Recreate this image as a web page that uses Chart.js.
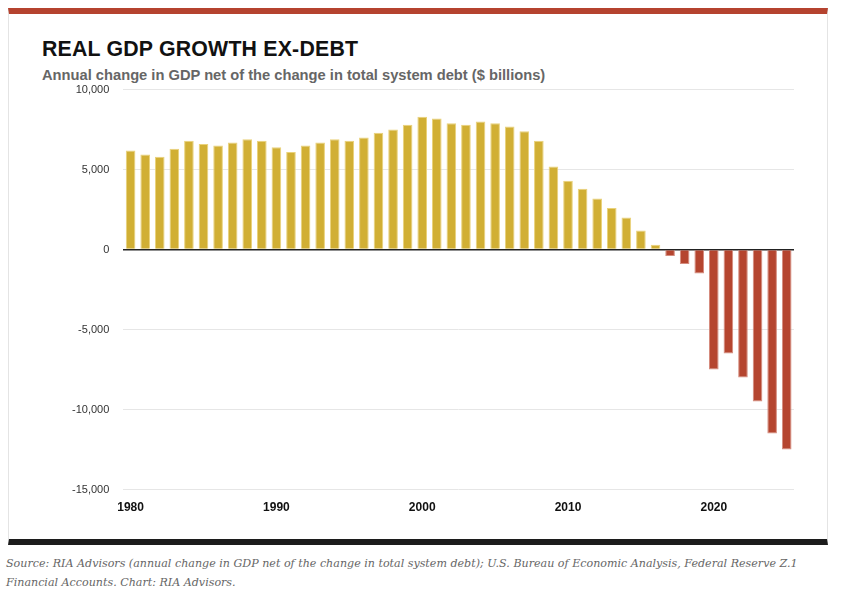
<!DOCTYPE html>
<html><head><meta charset="utf-8">
<script src="https://cdn.jsdelivr.net/npm/chart.js@4"></script>
<style>
body{margin:0;background:#fff;width:855px;height:598px;position:relative;font-family:Arial,"Liberation Sans",sans-serif;overflow:hidden}
#card{position:absolute;left:8px;top:8px;width:820px;height:537px;border:1px solid #e4e4e4;border-top:6px solid #b5432f;border-bottom:6px solid #1c1c1c;box-sizing:border-box;background:#fff}
#title{position:absolute;left:33px;top:23px;font-size:21.3px;font-weight:bold;color:#111;letter-spacing:0.2px}
#sub{position:absolute;left:33px;top:53px;font-size:14.7px;font-weight:bold;color:#666}
#wrap{position:absolute;left:40px;top:69px;width:770px;height:449px}
#src{position:absolute;left:6px;top:554px;width:840px;font-family:"DejaVu Serif","Liberation Serif",serif;font-style:italic;font-size:11.1px;line-height:19px;color:#666;white-space:nowrap}
</style></head><body>
<div id="card"><div id="title">REAL GDP GROWTH EX-DEBT</div>
<div id="sub">Annual change in GDP net of the change in total system debt ($ billions)</div></div>
<div id="wrap"><canvas id="c"></canvas></div>
<div id="src">Source: RIA Advisors (annual change in GDP net of the change in total system debt); U.S. Bureau of Economic Analysis, Federal Reserve Z.1<br>Financial Accounts. Chart: RIA Advisors.</div>
<script>
const years=[];for(let y=1980;y<=2025;y++)years.push(String(y));
const values=[6200,5950,5800,6300,6800,6600,6500,6700,6900,6800,
6400,6100,6500,6700,6900,6800,7000,7300,7500,7800,
8300,8200,7900,7800,8000,7900,7700,7400,6800,5200,
4300,3800,3200,2600,2000,1200,300,-400,-900,-1500,
-7500,-6500,-8000,-9500,-11500,-12500];
const yTicks=[10000,5000,0,-5000,-10000,-15000];
const pos='#d1af34',neg='#b5452f';
new Chart(document.getElementById('c'),{type:'bar',
data:{labels:years,datasets:[{data:values,
backgroundColor:values.map(v=>v>=0?pos:neg),
borderColor:values.map(v=>v>=0?'#ead27a':'#d58c7e'),borderWidth:1,
categoryPercentage:1,barPercentage:0.66}]},
options:{responsive:true,maintainAspectRatio:false,animation:false,
layout:{padding:{left:18,right:16}},
plugins:{legend:{display:false},tooltip:{enabled:false}},
scales:{
x:{grid:{display:false},border:{display:false},
ticks:{autoSkip:false,maxRotation:0,color:'#111',font:{size:12,weight:'bold',family:'Arial'},
callback:function(v,i){return (1980+i)%10===0?this.getLabelForValue(v):'';}}},
y:{min:-15000,max:10000,afterBuildTicks:a=>{a.ticks=yTicks.map(v=>({value:v}));},
border:{display:false},
grid:{color:c=>c.tick&&c.tick.value===0?'#222':'#e6e6e6',lineWidth:c=>c.tick&&c.tick.value===0?1.5:1,drawTicks:false},
ticks:{padding:14,color:'#333',font:{size:11,family:'Arial'},callback:v=>v.toLocaleString('en-US')}}}}});
</script></body></html>
